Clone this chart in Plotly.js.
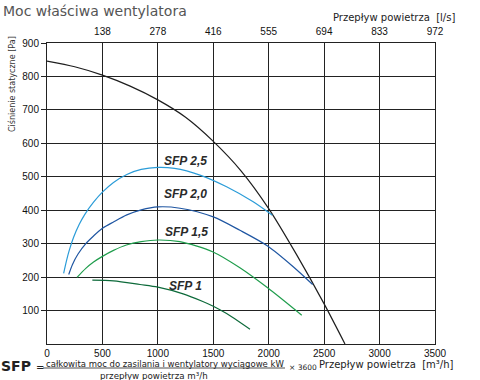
<!DOCTYPE html>
<html>
<head>
<meta charset="utf-8">
<script src="https://cdn.plot.ly/plotly-3.0.1.min.js"></script>
<style>html,body{margin:0;padding:0;background:#fff;}#chart{width:480px;height:380px;}</style>
</head>
<body>
<div id="chart"></div>
<script>
// ---- data ----
const xTicks = [0, 500, 1000, 1500, 2000, 2500, 3000, 3500];
const yTicks = [100, 200, 300, 400, 500, 600, 700, 800, 900];
const topTickVals = [500, 1000, 1500, 2000, 2500, 3000, 3500];
const topTickText = ['138', '278', '416', '555', '694', '833', '972'];

const fanX = [0, 250, 500, 750, 1000, 1250, 1500, 1750, 2000, 2250, 2500, 2688];
const fanY = [846, 829, 804, 771, 730, 678, 606, 518, 405, 268, 120, 0];

const sfp25X = [150, 175, 200, 240, 290, 340, 420, 500, 600, 720, 850, 1000, 1150, 1380, 1620, 1860, 2033];
const sfp25Y = [211, 248, 279, 319, 357, 387, 424, 454, 483, 507, 522, 528, 525, 505, 470, 425, 385];

const sfp20X = [196, 230, 280, 350, 420, 500, 600, 720, 850, 1000, 1200, 1500, 1740, 1990, 2221, 2396];
const sfp20Y = [208, 238, 269, 300, 323, 346, 365, 386, 401, 410, 406, 380, 340, 293, 231, 178];

const sfp15X = [271, 350, 420, 500, 600, 716, 850, 1000, 1198, 1493, 1740, 1990, 2298];
const sfp15Y = [199, 226, 245, 262, 280, 296, 306, 311, 306, 276, 228, 168, 86];

const sfp10X = [409, 600, 839, 1000, 1228, 1400, 1500, 1620, 1831];
const sfp10Y = [191, 189, 178, 170, 150, 128, 113, 91, 44];

const seriesNames = ['SFP 2,5', 'SFP 2,0', 'SFP 1,5', 'SFP 1'];

// ---- layout helpers ----
const M = {l: 47, r: 45, t: 43, b: 36};
const W = 480, H = 380;
const PW = W - M.l - M.r, PH = H - M.t - M.b;
const pxX = x => (x - M.l) / PW;
const pxY = y => (H - M.b - y) / PH;

const lineTrace = (x, y, color, name, width) => ({
  type: 'scatter', mode: 'lines', x: x, y: y, name: name,
  line: {color: color, width: width || 1.2, shape: 'spline', smoothing: 0.8},
  hoverinfo: 'skip', showlegend: false
});

const traces = [
  lineTrace(fanX, fanY, '#1e1e1e', 'fan', 1.2),
  lineTrace(sfp25X, sfp25Y, '#2b9cd8', seriesNames[0]),
  lineTrace(sfp20X, sfp20Y, '#1f56a2', seriesNames[1]),
  lineTrace(sfp15X, sfp15Y, '#1f9d4c', seriesNames[2]),
  lineTrace(sfp10X, sfp10Y, '#0d6a3a', seriesNames[3]),
  {type: 'scatter', mode: 'markers', x: [0], y: [0], xaxis: 'x2', yaxis: 'y',
   marker: {opacity: 0}, hoverinfo: 'skip', showlegend: false}
];

const tickFont = {family: 'Liberation Sans, Arial, sans-serif', size: 10, color: '#111'};
const txtFont = (size, color) => ({family: 'DejaVu Sans, Verdana, sans-serif', size: size, color: color || '#222'});
const lblFont = {family: 'Liberation Sans, Arial, sans-serif', size: 12, color: '#2a2a2a'};

const ann = [];
const base = {showarrow: false, borderpad: 0, xref: 'paper', yref: 'paper', yanchor: 'middle'};
// series labels
const lbl = (text, x, y) => ({text: '<b><i>' + text + '</i></b>', x: x, y: y, xref: 'x', yref: 'y',
  showarrow: false, borderpad: 0, font: lblFont, xanchor: 'center', yanchor: 'middle'});
ann.push(lbl(seriesNames[0], 1245, 547));
ann.push(lbl(seriesNames[1], 1245, 449));
ann.push(lbl(seriesNames[2], 1254, 335));
ann.push(lbl(seriesNames[3], 1245, 173));

// title
ann.push(Object.assign({}, base, {text: 'Moc właściwa wentylatora', x: pxX(2), y: pxY(11),
  xanchor: 'left', font: txtFont(14, '#555')}));
// top axis title
ann.push(Object.assign({}, base, {text: 'Przepływ powietrza  [l/s]', x: pxX(456), y: pxY(17),
  xanchor: 'right', font: txtFont(10, '#222')}));
// y axis title
ann.push(Object.assign({}, base, {text: 'Ciśnienie statyczne [Pa]', x: pxX(12), y: pxY(84),
  xanchor: 'center', textangle: -90, font: txtFont(8, '#333')}));
// formula
ann.push(Object.assign({}, base, {text: '<b>SFP</b>', x: pxX(0), y: pxY(366),
  xanchor: 'left', font: txtFont(14, '#222')}));
ann.push(Object.assign({}, base, {text: '=', x: pxX(39.5), y: pxY(367),
  xanchor: 'center', font: txtFont(10, '#222')}));
ann.push(Object.assign({}, base, {text: 'całkowita moc do zasilania i wentylatory wyciągowe kW', x: pxX(165), y: pxY(363.5),
  xanchor: 'center', font: txtFont(8.5, '#222')}));
ann.push(Object.assign({}, base, {text: 'przepływ powietrza m³/h', x: pxX(154), y: pxY(376),
  xanchor: 'center', font: txtFont(8.7, '#222')}));
ann.push(Object.assign({}, base, {text: '× 3600', x: pxX(288), y: pxY(367.5),
  xanchor: 'left', font: txtFont(7.5, '#222')}));
ann.push(Object.assign({}, base, {text: 'Przepływ powietrza  [m³/h]', x: pxX(455), y: pxY(364),
  xanchor: 'right', font: txtFont(10, '#222')}));

const layout = {
  width: W, height: H,
  margin: M,
  paper_bgcolor: '#fff', plot_bgcolor: '#fff',
  showlegend: false,
  font: tickFont,
  xaxis: {range: [0, 3500], tickvals: xTicks, ticktext: xTicks.map(String), tickfont: tickFont,
    showgrid: true, gridcolor: '#222', gridwidth: 1, zeroline: false,
    showline: true, linecolor: '#222', linewidth: 1, mirror: true,
    ticks: '', fixedrange: true},
  xaxis2: {range: [0, 3500], overlaying: 'x', side: 'top', tickvals: topTickVals, ticktext: topTickText,
    tickfont: tickFont, showgrid: false, zeroline: false, showline: false,
    ticks: 'outside', ticklen: 3, tickcolor: 'rgba(0,0,0,0)', fixedrange: true},
  yaxis: {range: [0, 900], tickvals: yTicks, ticktext: yTicks.map(String), tickfont: tickFont,
    showgrid: true, gridcolor: '#222', gridwidth: 1, zeroline: false,
    showline: true, linecolor: '#222', linewidth: 1, mirror: true,
    ticks: 'outside', ticklen: 5, tickcolor: '#222', fixedrange: true},
  annotations: ann,
  shapes: [{type: 'line', xref: 'paper', yref: 'paper', x0: pxX(43), x1: pxX(285), y0: pxY(368), y1: pxY(368),
    line: {color: '#222', width: 0.8}}]
};

Plotly.newPlot('chart', traces, layout, {staticPlot: true, displayModeBar: false});
</script>
</body>
</html>
